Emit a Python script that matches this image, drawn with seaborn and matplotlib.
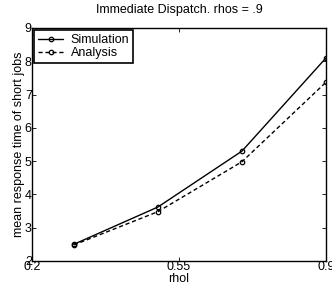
import seaborn as sns
import pandas as pd
import matplotlib.pyplot as plt

# values
rhol = [0.3, 0.5, 0.7, 0.9]
sim = [2.5, 3.62, 5.3, 8.1]
ana = [2.48, 3.48, 4.98, 7.37]

df = pd.DataFrame({'rhol': rhol * 2,
                   'value': sim + ana,
                   'kind': ['Simulation'] * 4 + ['Analysis'] * 4})

sns.set_style('ticks', {'text.color': 'black', 'axes.labelcolor': 'black',
                        'xtick.color': 'black', 'ytick.color': 'black',
                        'axes.edgecolor': 'black'})
plt.rcParams['font.family'] = ['Liberation Sans', 'DejaVu Sans']

fig = plt.figure(figsize=(3.32, 2.88), dpi=100)
ax = fig.add_axes([0.096, 0.094, 0.886, 0.809])

sns.lineplot(data=df, x='rhol', y='value', style='kind',
             dashes={'Simulation': '', 'Analysis': (3, 2)},
             markers={'Simulation': 'o', 'Analysis': 'o'},
             color='black', lw=1.0, markersize=3.2,
             markerfacecolor='none', markeredgecolor='black', markeredgewidth=0.9,
             ax=ax)

ax.set_xlim(0.2, 0.9)
ax.set_ylim(2, 9)
ax.set_xticks([0.2, 0.55, 0.9])
ax.set_xticklabels(['0.2', '0.55', '0.9'])
ax.set_yticks(range(2, 10))
ax.tick_params(direction='in', length=3, labelsize=9, pad=0, top=True, right=True,
               width=0.6)
for s in ax.spines.values():
    s.set_linewidth(1.0)
    s.set_visible(True)

ax.set_xlabel('rhol', fontsize=9, labelpad=0)
ax.set_ylabel('mean response time of short jobs', fontsize=9, labelpad=0)
ax.set_title('Immediate Dispatch. rhos = .9', fontsize=9, pad=11)

leg = ax.legend(loc='upper left', fontsize=9, fancybox=False, framealpha=1,
                edgecolor='black', borderaxespad=0.2, handlelength=2.0,
                borderpad=0.3, labelspacing=0.1, handletextpad=0.6)
leg.get_frame().set_linewidth(1.2)

fig.savefig('out.png', dpi=100)
